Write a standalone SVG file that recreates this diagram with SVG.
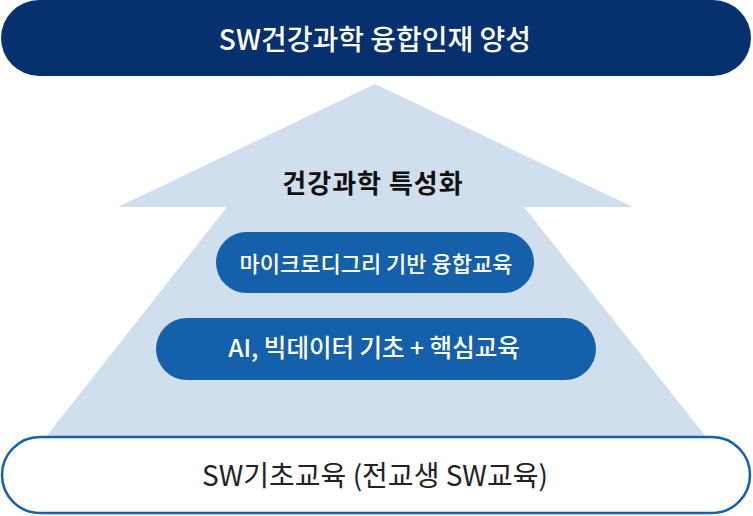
<svg xmlns="http://www.w3.org/2000/svg" width="753" height="516" viewBox="0 0 753 516">
<style>
.t{font-family:"Noto Sans CJK KR","Noto Sans",sans-serif;text-anchor:middle}
.w{fill:#ffffff}
.pill{fill:#1560aa}
</style>
<rect width="753" height="516" fill="#ffffff"/>
<g id="arrow">
<polygon points="375,84 633,207 524,207 707,438 45,438 227,207 118,207" fill="#d0dfee"/>
</g>
<g id="top">
<rect x="1" y="0" width="750" height="76" rx="38" fill="#06316e"/>
<text class="t w" x="375" y="50" font-size="28" font-weight="500">SW건강과학 융합인재 양성</text>
</g>
<g id="label">
<text class="t" x="373" y="193" font-size="26" font-weight="700" fill="#111111" letter-spacing="1">건강과학 특성화</text>
</g>
<g id="pill1">
<rect class="pill" x="216" y="232" width="318" height="61" rx="30.5"/>
<text class="t w" x="376" y="272" font-size="22" font-weight="500">마이크로디그리 기반 융합교육</text>
</g>
<g id="pill2">
<rect class="pill" x="156" y="318" width="440" height="62" rx="31"/>
<text class="t w" x="374" y="357" font-size="24.5" font-weight="500">AI, 빅데이터 기초 + 핵심교육</text>
</g>
<g id="base">
<rect x="2" y="437" width="748" height="76" rx="38" fill="#ffffff" stroke="#1560aa" stroke-width="2.5"/>
<text class="t" x="375" y="486" font-size="28" font-weight="400" fill="#222222">SW기초교육 (전교생 SW교육)</text>
</g>
<g id="connectors"></g>
</svg>
